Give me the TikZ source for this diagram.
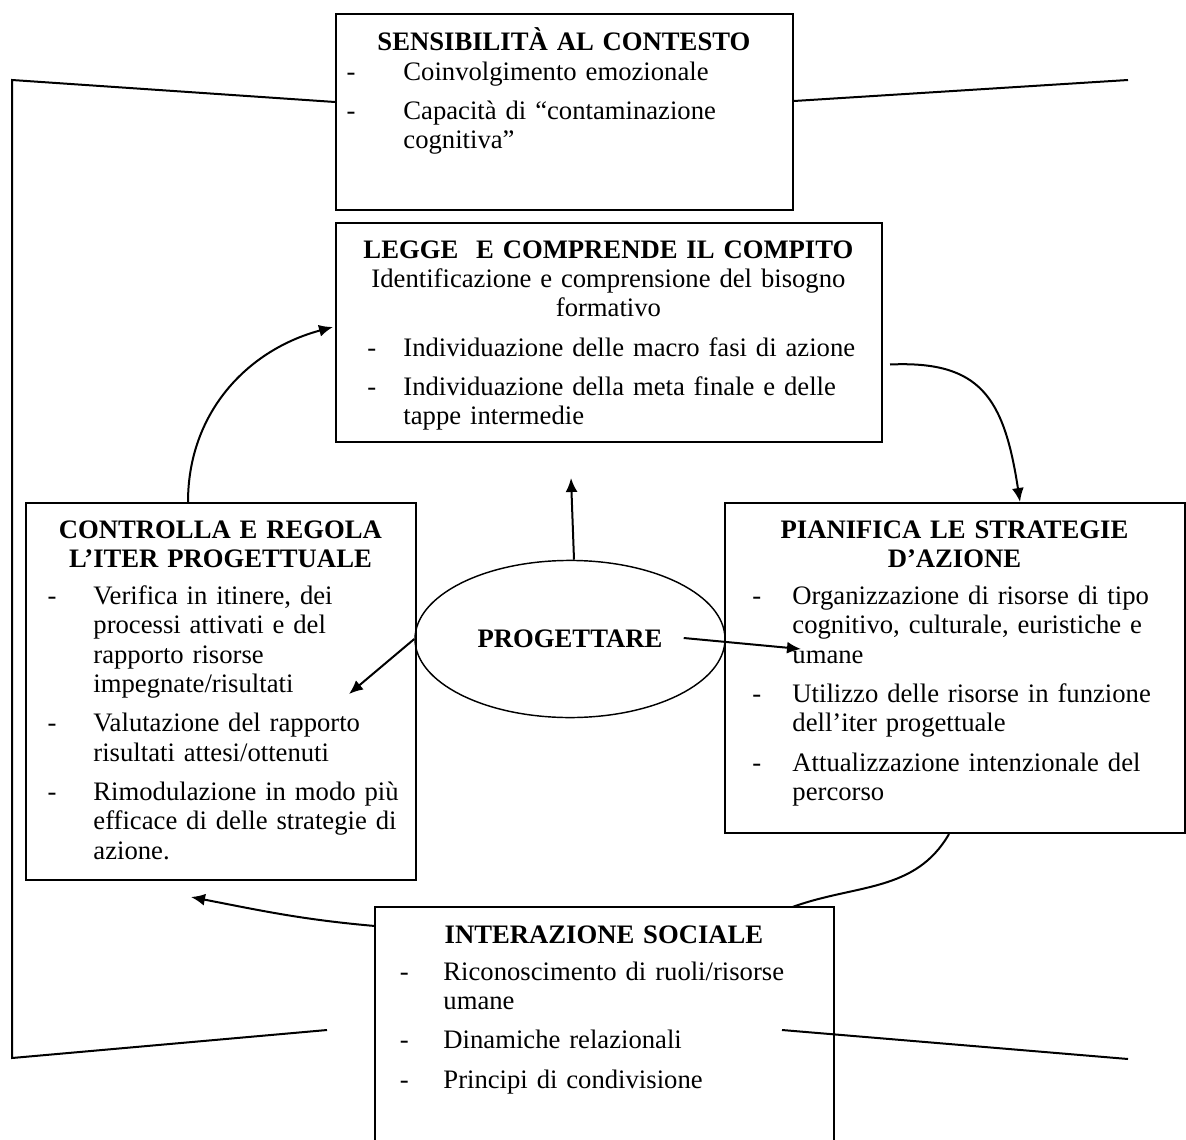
\documentclass[tikz,border=0pt]{standalone}
\usepackage{fontspec}
\setmainfont{Liberation Serif}
\usetikzlibrary{positioning,calc,shapes.geometric,arrows.meta}
\newcommand{\centro}[1]{\makebox[\linewidth]{#1}}
\newcommand{\tit}[1]{\centro{\bfseries #1}}
\newcommand{\voce}[1][12pt]{\makebox[30.6pt][l]{\hspace*{#1}-}}
\newcommand{\cont}{\hspace*{30.6pt}}

\begin{document}
\begin{tikzpicture}[x=0.45pt,y=0.45pt]
		\tikzstyle{box}=[rectangle, draw=black, line width=0.9pt, inner sep=0pt, anchor=north west]
		\tikzstyle{txt}=[anchor=base west, inner sep=0pt, align=left, font=\fontsize{12pt}{13.2pt}\selectfont]
		\tikzstyle{connect}=[-{Latex[length=6.3pt,width=5.4pt]}, line width=0.9pt]
		\tikzstyle{frame}=[line width=0.9pt]
		\useasboundingbox (0,0) rectangle (1186,-1139);
		
		\node[box, minimum width=205.65pt, minimum height=88.2pt] (sens) at (335,-13) { };
		\node[box, minimum width=245.7pt, minimum height=98.55pt] (legge) at (335,-222) { };
		\node[box, minimum width=175.5pt, minimum height=169.65pt] (contr) at (25,-502) { };
		\node[box, minimum width=207pt, minimum height=148.5pt] (pian) at (724,-502) { };
		\node[box, draw=none, minimum width=205.65pt, minimum height=104.4pt] (inter) at (375,-907) { };
		\draw[frame] (inter.south west) |- (inter.north east) -- (inter.south east);
		
		\node[ellipse, draw, line width=0.65pt, minimum width=139.5pt, minimum height=70.7pt, inner sep=0pt,
		      font=\bfseries\fontsize{12pt}{13.2pt}\selectfont] (prog) at (570,-639) {PROGETTARE};
		
		\node[txt, text width=205.65pt] (sens-t) at (335,-51) {\tit{SENSIBILITÀ AL CONTESTO}\\
			\voce[5pt]Coinvolgimento emozionale\\[4.5pt]
			\voce[5pt]Capacità di “contaminazione\\
			\cont cognitiva”};
		\node[txt, text width=245.7pt] (legge-t) at (335,-258) {\tit{LEGGE\ \ E COMPRENDE IL COMPITO}\\
			\centro{Identificazione e comprensione del bisogno}\\
			\centro{formativo}\\[4.5pt]
			\voce[14.4pt]Individuazione delle macro fasi di azione\\[4.5pt]
			\voce[14.4pt]Individuazione della meta finale e delle\\
			\cont tappe intermedie};
		\node[txt, text width=175.5pt] (contr-t) at (25,-538) {\tit{CONTROLLA E REGOLA}\\
			\tit{L’ITER PROGETTUALE}\\[3.5pt]
			\voce[10pt]Verifica in itinere, dei\\
			\cont processi attivati e del\\
			\cont rapporto risorse\\
			\cont impegnate/risultati\\[4.5pt]
			\voce[10pt]Valutazione del rapporto\\
			\cont risultati attesi/ottenuti\\[4.5pt]
			\voce[10pt]Rimodulazione in modo più\\
			\cont efficace di delle strategie di\\
			\cont azione.};
		\node[txt, text width=207pt] (pian-t) at (724,-538) {\tit{PIANIFICA LE STRATEGIE}\\
			\tit{D’AZIONE}\\[3.5pt]
			\voce[12.6pt]Organizzazione di risorse di tipo\\
			\cont cognitivo, culturale, euristiche e\\
			\cont umane\\[4.5pt]
			\voce[12.6pt]Utilizzo delle risorse in funzione\\
			\cont dell’iter progettuale\\[4.5pt]
			\voce[12.6pt]Attualizzazione intenzionale del\\
			\cont percorso};
		\node[txt, text width=205.65pt] (inter-t) at (375,-943) {\tit{INTERAZIONE SOCIALE}\\[3.5pt]
			\voce[11pt]Riconoscimento di ruoli/risorse\\
			\cont umane\\[4.5pt]
			\voce[11pt]Dinamiche relazionali\\[4.5pt]
			\voce[11pt]Principi di condivisione};
		
		% outer frame
		\coordinate (f1) at (12,-80);
		\coordinate (f2) at (12,-1058);
		\coordinate (f3) at (327,-1030);
		\coordinate (f4) at (1128,-80);
		\coordinate (f5) at (782,-1030);
		\coordinate (f6) at (1128,-1059);
		\draw[frame] ($(sens.west)+(0,10)$) -- (f1) -- (f2) -- (f3);
		\draw[frame] ($(sens.east)+(0,11)$) -- (f4);
		\draw[frame] (f5) -- (f6);
		
		% arrows
		\coordinate (p-up) at (571,-478);
		\coordinate (p-left) at (349,-694);
		\coordinate (p-right) at (801,-649);
		\coordinate (i-end) at (191,-897);
		\draw[connect] ($(prog.north)+(4,0)$) -- (p-up);
		\draw[connect] (prog.west) -- (p-left);
		\draw[connect] ($(prog.east)+(-42,1)$) -- (p-right);
		\draw[connect] ($(legge.east)+(7,-32)$) .. controls +(90,4) and +(-16,105) .. ($(pian.north)+(65,0)$);
		\draw[connect] ($(contr.north)+(-33,0)$) to[out=90, in=195] ($(legge.west)+(-2,5.5)$);
		\draw[frame] ($(pian.south)+(-6,0)$) to[out=-120, in=20] ($(inter.north)+(188,0)$);
		\draw[connect] ($(inter.north west)+(0,-19)$) to[out=175, in=-11] (i-end);
	\end{tikzpicture}
\end{document}
